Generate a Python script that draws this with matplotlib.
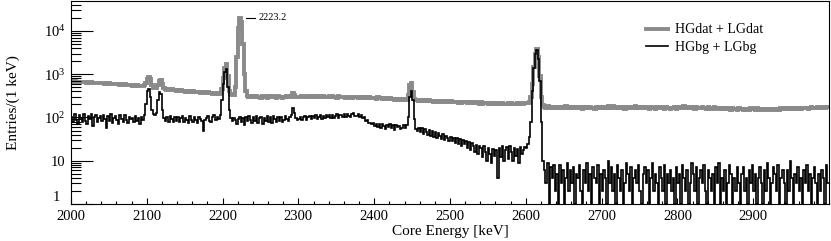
import numpy as np
import matplotlib
matplotlib.use('Agg')
import matplotlib.pyplot as plt
from matplotlib.ticker import FixedLocator, MultipleLocator, LogLocator, FuncFormatter, NullFormatter

plt.rcParams['font.family'] = 'Liberation Serif'
plt.rcParams['mathtext.fontset'] = 'custom'
plt.rcParams['mathtext.rm'] = 'Liberation Serif'
plt.rcParams['mathtext.it'] = 'Liberation Serif:italic'

# 2 keV bins, one list per 100 keV (50 bins each)
e_start = 2000
bin_w = 2

# HGdat + LGdat (grey)
g20 = [690, 665, 685, 660, 678, 655, 672, 648, 665, 660,
       640, 655, 632, 648, 625, 642, 620, 636, 615, 630,
       612, 628, 605, 620, 598, 612, 590, 608, 585, 600,
       580, 596, 575, 588, 565, 582, 560, 575, 552, 568,
       545, 560, 538, 552, 530, 545, 522, 538, 550, 640]
g21 = [780, 880, 760, 560, 480, 470, 480, 560, 680, 730,
       600, 480, 462, 440, 455, 432, 448, 425, 440, 418,
       432, 410, 425, 405, 420, 398, 412, 392, 408, 388,
       402, 385, 398, 380, 392, 375, 388, 372, 382, 368,
       378, 362, 375, 358, 370, 355, 365, 352, 362, 450]
g22 = [800, 1400, 1700, 900, 420, 340, 330, 325, 500, 2500,
       12000, 20000, 16000, 5000, 1000, 400, 320, 300, 312, 296,
       312, 295, 308, 290, 305, 288, 310, 292, 302, 288,
       306, 290, 312, 294, 300, 286, 308, 292, 300, 288,
       304, 290, 310, 294, 305, 320, 375, 330, 305, 292]
g23 = [305, 292, 310, 296, 304, 290, 312, 298, 306, 292,
       300, 310, 295, 308, 292, 304, 314, 296, 302, 290,
       306, 294, 312, 298, 300, 288, 308, 295, 304, 292,
       300, 288, 305, 292, 298, 286, 302, 290, 296, 284,
       294, 282, 298, 285, 290, 280, 292, 278, 288, 276]
g24 = [286, 274, 290, 276, 282, 270, 285, 272, 278, 266,
       276, 262, 272, 260, 268, 258, 270, 256, 264, 252,
       262, 250, 330, 560, 620, 380, 270, 250, 258, 244,
       255, 242, 252, 240, 250, 236, 248, 238, 244, 232,
       242, 230, 246, 232, 240, 228, 238, 226, 236, 228]
g25 = [236, 224, 232, 222, 234, 220, 230, 218, 228, 222,
       226, 214, 228, 216, 222, 212, 224, 214, 220, 210,
       222, 208, 218, 212, 216, 206, 220, 208, 214, 204,
       218, 206, 212, 202, 216, 208, 210, 200, 214, 206,
       212, 204, 210, 200, 214, 206, 212, 202, 208, 215]
g26 = [212, 215, 230, 300, 600, 1500, 3000, 3800, 2500, 900,
       300, 190, 176, 166, 180, 168, 176, 164, 174, 168,
       178, 166, 172, 162, 176, 168, 182, 166, 172, 164,
       176, 162, 174, 168, 178, 164, 172, 160, 176, 166,
       174, 162, 178, 166, 170, 160, 174, 164, 176, 166]
g27 = [172, 164, 178, 166, 182, 168, 176, 184, 170, 162,
       174, 166, 178, 162, 172, 160, 176, 168, 174, 162,
       176, 166, 180, 168, 174, 164, 178, 166, 172, 162,
       170, 160, 174, 164, 170, 158, 172, 166, 176, 162,
       170, 160, 174, 164, 168, 158, 170, 162, 172, 160]
g28 = [172, 164, 178, 168, 182, 166, 174, 162, 176, 168,
       172, 160, 174, 166, 170, 162, 178, 166, 170, 160,
       172, 162, 168, 158, 172, 164, 168, 156, 166, 160,
       164, 154, 168, 158, 162, 152, 164, 156, 160, 150,
       162, 154, 158, 150, 160, 152, 158, 148, 162, 154]
g29 = [158, 150, 162, 152, 156, 146, 160, 152, 154, 148,
       158, 150, 156, 148, 160, 152, 158, 150, 162, 154,
       164, 156, 166, 154, 162, 158, 168, 156, 164, 160,
       166, 158, 164, 170, 162, 168, 160, 170, 172, 164,
       170, 166, 174, 168, 176, 166, 178, 170, 174, 178]

# HGbg + LGbg (black)
b20 = [105, 78, 118, 88, 70, 112, 95, 80, 122, 85,
       72, 108, 92, 118, 62, 100, 112, 78, 95, 110,
       82, 115, 90, 58, 108, 85, 120, 76, 98, 110,
       88, 72, 112, 92, 80, 115, 88, 74, 102, 90,
       98, 78, 108, 82, 95, 70, 100, 86, 115, 200]
b21 = [420, 460, 300, 150, 120, 115, 130, 250, 380, 340,
       150, 95, 82, 100, 78, 108, 90, 80, 102, 84,
       105, 78, 96, 110, 80, 98, 86, 76, 108, 88,
       80, 102, 88, 74, 100, 92, 82, 48, 86, 98,
       108, 84, 80, 100, 112, 88, 104, 90, 115, 250]
b22 = [600, 1100, 1300, 500, 150, 95, 84, 96, 88, 70,
       92, 105, 78, 98, 68, 100, 82, 108, 86, 74,
       100, 84, 108, 76, 96, 104, 70, 98, 84, 108,
       80, 100, 74, 110, 90, 78, 104, 84, 100, 80,
       88, 106, 92, 84, 102, 115, 170, 130, 98, 86]
b23 = [92, 104, 86, 100, 108, 88, 102, 110, 92, 106,
       98, 112, 90, 104, 114, 94, 108, 96, 112, 100,
       114, 98, 116, 96, 110, 120, 98, 112, 116, 102,
       118, 104, 122, 108, 100, 118, 124, 106, 110, 120,
       104, 112, 96, 100, 84, 86, 74, 76, 70, 74]
b24 = [64, 70, 60, 72, 58, 70, 62, 54, 68, 60,
       70, 56, 66, 52, 68, 60, 64, 54, 58, 66,
       56, 68, 100, 300, 420, 250, 90, 54, 48, 58,
       46, 56, 42, 54, 46, 40, 52, 38, 48, 36,
       46, 34, 44, 38, 32, 42, 30, 38, 34, 28]
b25 = [36, 28, 34, 26, 33, 24, 31, 22, 30, 24,
       28, 20, 27, 18, 26, 22, 16, 23, 14, 22,
       20, 12, 22, 16, 10, 20, 14, 9, 19, 13,
       18, 4, 20, 12, 22, 10, 18, 21, 11, 22,
       16, 10, 20, 13, 19, 9, 21, 14, 18, 21]
b26 = [20, 25, 35, 80, 400, 1400, 3000, 3600, 2200, 700,
       80, 10, 6, 3, 9, 1, 7, 4, 8, 2,
       5, 1, 8, 3, 6, 1, 4, 9, 2, 6,
       3, 7, 1, 5, 4, 8, 2, 1, 6, 3,
       9, 2, 5, 1, 7, 4, 3, 8, 1, 5]
b27 = [2, 6, 4, 1, 10, 3, 7, 2, 5, 1,
       8, 4, 2, 6, 1, 3, 9, 5, 2, 7,
       1, 4, 6, 3, 8, 2, 1, 5, 7, 3,
       6, 1, 4, 9, 2, 5, 3, 1, 7, 4,
       2, 8, 1, 5, 3, 6, 2, 4, 1, 7]
b28 = [3, 5, 1, 8, 4, 2, 6, 1, 3, 9,
       5, 2, 7, 1, 4, 6, 3, 8, 2, 1,
       6, 4, 2, 5, 1, 7, 3, 9, 1, 4,
       2, 6, 1, 3, 8, 5, 1, 4, 2, 7,
       3, 1, 5, 7, 2, 4, 1, 6, 3, 8]
b29 = [2, 5, 1, 4, 7, 3, 1, 6, 2, 9,
       4, 1, 3, 7, 5, 2, 8, 1, 4, 6,
       3, 1, 6, 2, 10, 4, 1, 5, 3, 7,
       2, 4, 1, 6, 3, 8, 2, 5, 1, 4,
       7, 3, 1, 5, 2, 6, 4, 1, 8, 3]

peak_label = 2223.2

grey = np.array(g20 + g21 + g22 + g23 + g24 + g25 + g26 + g27 + g28 + g29, dtype=float)
black = np.array(b20 + b21 + b22 + b23 + b24 + b25 + b26 + b27 + b28 + b29, dtype=float)
edges = e_start + bin_w * np.arange(len(grey) + 1)

fig = plt.figure(figsize=(8.31, 2.41), dpi=100)
ax = fig.add_axes([0.0854, 0.1535, 0.9122, 0.842])

ax.stairs(grey, edges, baseline=None, color='#8a8a8a', lw=2.8, label='HGdat + LGdat')
ax.stairs(black, edges, baseline=None, color='black', lw=1.2, label='HGbg + LGbg')

ax.set_yscale('log')
ax.set_xlim(2000, 3000)
ax.set_ylim(1, 4.9e4)

# peak label
pk = grey.max()
ax.plot([peak_label + 8, peak_label + 19], [pk, pk], color='black', lw=0.8)
ax.text(peak_label + 24, pk, '2223.2', fontsize=7.5, va='center', ha='left')

ax.xaxis.set_major_locator(FixedLocator(np.arange(2000, 3000, 100)))
ax.xaxis.set_minor_locator(MultipleLocator(20))
ax.yaxis.set_major_locator(LogLocator(base=10, numticks=10))
ax.yaxis.set_minor_locator(LogLocator(base=10, subs=np.arange(2, 10), numticks=20))
ax.yaxis.set_minor_formatter(NullFormatter())

def ylab(v, pos):
    if v < 1.5:
        return ''
    if v < 15:
        return '10'
    return '$10^{%d}$' % int(round(np.log10(v)))
ax.yaxis.set_major_formatter(FuncFormatter(ylab))
# the "1" sits a little above the corner, as in ROOT
ax.text(-0.014, 1, '1', transform=ax.get_yaxis_transform(), ha='right', va='bottom',
        fontsize=10.5)

ax.tick_params(axis='both', which='both', direction='in', labelsize=10.5)
ax.tick_params(axis='x', which='major', length=4.3, width=0.8, pad=4.5)
ax.tick_params(axis='x', which='minor', length=2.2, width=0.8)
ax.tick_params(axis='y', which='major', length=15.8, width=0.8, pad=4)
ax.tick_params(axis='y', which='minor', length=7.2, width=0.8)
for s in ax.spines.values():
    s.set_linewidth(0.8)

ax.set_xlabel('Core Energy [keV]', fontsize=11, labelpad=1)
ax.set_ylabel('Entries/(1 keV)', fontsize=11, labelpad=17)

ax.legend(loc='upper left', bbox_to_anchor=(0.758, 0.89), frameon=False, fontsize=10,
          borderaxespad=0, borderpad=0, handlelength=1.6, handletextpad=0.55,
          labelspacing=0.3)

fig.savefig('out.png', dpi=100)
